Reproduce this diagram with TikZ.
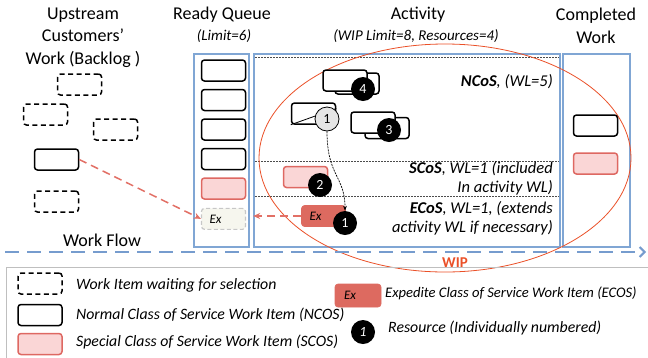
\documentclass[tikz,border=0pt]{standalone}
\usepackage{fontspec}
\setmainfont{Carlito}
\usetikzlibrary{positioning}
\usetikzlibrary{arrows.meta}
\definecolor{lanecol}{RGB}{128,166,212}
\definecolor{flowcol}{RGB}{118,156,206}
\definecolor{pinkfill}{RGB}{250,214,214}
\definecolor{pinkdraw}{RGB}{222,104,98}
\definecolor{exfill}{RGB}{221,106,96}
\definecolor{arrred}{RGB}{226,112,102}
\definecolor{wipred}{RGB}{234,80,40}
\definecolor{ghostfill}{RGB}{246,246,238}
\tikzset{item/.style={draw, rounded corners=3pt, line width=1.5pt, minimum width=44pt, minimum height=21pt, inner sep=0pt, fill=white}}
\tikzset{wait/.style={item, dash pattern=on 5pt off 3.5pt}}
\tikzset{spec/.style={item, draw=pinkdraw, fill=pinkfill}}
\tikzset{expd/.style={item, draw=exfill, fill=exfill, line width=0.6pt, text width=28pt, align=left, font=\fontsize{13}{15}\selectfont\itshape}}
\tikzset{ghost/.style={item, draw=black!22, fill=ghostfill, line width=1.2pt, dash pattern=on 4pt off 2.5pt, text width=28pt, align=left, font=\fontsize{13}{15}\selectfont\itshape}}
\tikzset{res/.style={circle, fill=black, text=white, minimum size=24pt, inner sep=0pt, font=\fontsize{14}{16}\selectfont}}
\tikzset{lane/.style={draw=lanecol, line width=1.6pt, inner sep=0pt}}
\tikzset{hd/.style={font=\fontsize{18}{22.5}\selectfont, align=center}}
\tikzset{sub/.style={font=\fontsize{15}{17}\selectfont\itshape}}
\tikzset{cls/.style={font=\fontsize{16.5}{19.5}\selectfont\itshape, anchor=east, align=right, inner sep=0pt}}
\tikzset{lgd/.style={font=\fontsize{15.8}{18}\selectfont\itshape, anchor=west, inner sep=0pt}}
\tikzset{sep/.style={dash pattern=on 2pt off 1pt, line width=0.8pt, black!70}}
\tikzset{red flow/.style={arrred, line width=1.5pt, dash pattern=on 8pt off 5pt, -{Stealth[length=7pt,width=6pt]}}}

\begin{document}
\begin{tikzpicture}[x=1pt,y=-1pt]
        \useasboundingbox (0,0) rectangle (648,357);

        \node[hd] (hback) at (83,37.5) {Upstream\\Customers’\\Work (Backlog )};
        \node[hd] (hready) at (222,15) {Ready Queue};
        \node[sub] (hreadysub) at (224,36) {(Limit=6)};
        \node[hd] (hact) at (418,15) {Activity};
        \node[sub] (hactsub) at (416,36) {(WIP Limit=8, Resources=4)};
        \node[hd] (hdone) at (596,26) {Completed\\Work};
        \node[hd] (flowlbl) at (102,240) {Work Flow};

        \node[lane, minimum width=55pt, minimum height=193pt] (queue) at (221.5,150.5) {};
        \node[lane, minimum width=306pt, minimum height=193pt] (act) at (407,150.5) {};
        \node[lane, minimum width=67pt, minimum height=193pt] (done) at (596.5,150.5) {};

        \draw[sep] (255,57) -- (559,57);
        \draw[sep] (255,161) -- (559,161);
        \draw[sep] (255,196) -- (559,196);

        \draw[wipred, line width=0.8pt] (445,158) ellipse [x radius=186pt, y radius=114pt];
        \node[font=\fontsize{15}{17}\selectfont\bfseries, text=wipred] (wiplbl) at (455,263) {WIP};

        \node[wait] (b1) at (79.5,84.5) {};
        \node[wait] (b2) at (45.5,114.5) {};
        \node[wait] (b3) at (115.5,129.5) {};
        \node[item] (b4) at (56.5,159.5) {};
        \node[wait] (b5) at (56.5,201.5) {};

        \node[item] (q1) at (223.5,70.5) {};
        \node[item, below=7pt of q1] (q2) {};
        \node[item, below=7pt of q2] (q3) {};
        \node[item, below=7pt of q3] (q4) {};
        \node[spec, below=7pt of q4] (q5) {};
        \node[ghost, below=8pt of q5] (qx) {Ex};

        \node[item] (a4b) at (357,83.5) {};
        \node[item] (a4) at (345,80.5) {};
        \node[res] (r4) at (363,89) {4};

        \node[item] (a1) at (313.5,113.5) {};
        \draw[line width=0.8pt] (a1.south west) -- ([yshift=5pt]a1.east);
        \node[res, draw=black, line width=0.8pt, fill=black!10, text=black] (g1) at (327,119) {1};

        \node[item] (a3b) at (387,128) {};
        \node[item] (a3) at (373,122.5) {};
        \node[res] (r3) at (389,130) {3};

        \node[spec] (as) at (305.5,177) {};
        \node[res] (r2) at (320,185) {2};

        \node[expd] (ax) at (323.5,216) {Ex};
        \node[res] (r1) at (345,223) {1};

        \draw[->, >={Stealth[length=5pt]}, line width=0.7pt, dash pattern=on 2pt off 1pt] (g1.south) .. controls +(0,45) and +(0,-35) .. (r1.north);

        \node[cls] (ncos) at (553,82) {\textbf{NCoS}, (WL=5)};
        \node[cls] (scos) at (553,178.5) {\textbf{SCoS}, WL=1 (included\\In activity WL)};
        \node[cls] (ecos) at (553,218.5) {\textbf{ECoS}, WL=1, (extends\\activity WL if necessary)};

        \node[item] (c1) at (595.5,125.5) {};
        \node[spec] (c2) at (595.5,163.5) {};

        \draw[red flow] (b4.east) -- (qx.west);
        \draw[red flow] (ax.west) -- (ax.west -| act.west);

        \coordinate (flowa) at (5,252);
        \coordinate (flowb) at (646,252);
        \draw[flowcol, line width=2pt, dash pattern=on 14pt off 8pt, -{Straight Barb[length=5pt,width=10pt]}] (flowa) -- (flowb);

        \draw[black!25, line width=0.8pt] (6,267) rectangle (652,362);

        \node[wait] (lw) at (40,283.5) {};
        \node[lgd] (lwt) at (76,285) {Work Item waiting for selection};
        \node[item] (ln) at (40,315) {};
        \node[lgd] (lnt) at (76,315) {Normal Class of Service Work Item (NCOS)};
        \node[spec] (ls) at (40,344) {};
        \node[lgd] (lst) at (76,342) {Special Class of Service Work Item (SCOS)};
        \node[expd, minimum width=46pt, minimum height=23pt] (le) at (358,295.5) {Ex};
        \node[lgd, font=\fontsize{14.6}{17}\selectfont\itshape] (let) at (385,293) {Expedite Class of Service Work Item (ECOS)};
        \node[res, font=\fontsize{14}{16}\selectfont\itshape] (lr) at (363,332) {1};
        \node[lgd] (lrt) at (388,328) {Resource (Individually numbered)};
\end{tikzpicture}
\end{document}
